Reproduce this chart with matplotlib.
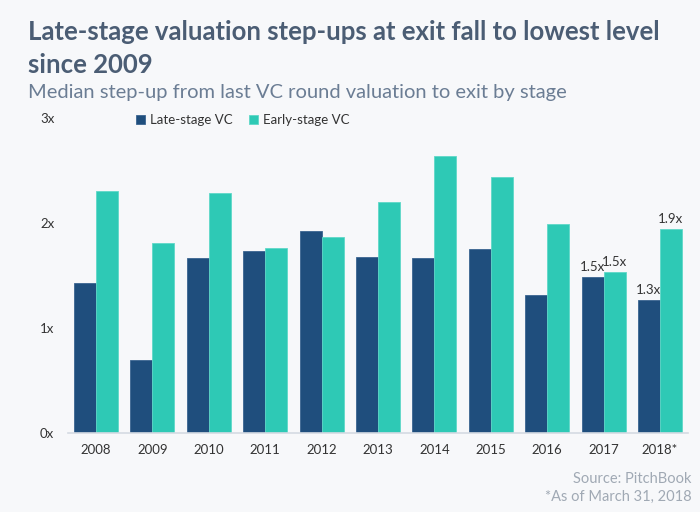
import matplotlib.pyplot as plt
import numpy as np

years = ['2008', '2009', '2010', '2011', '2012', '2013', '2014', '2015', '2016', '2017', '2018*']
late_stage = [1.43, 0.69, 1.66, 1.73, 1.92, 1.67, 1.66, 1.75, 1.31, 1.48, 1.26]
early_stage = [2.30, 1.81, 2.28, 1.76, 1.86, 2.20, 2.64, 2.44, 1.99, 1.53, 1.94]
late_labels = {9: '1.5x', 10: '1.3x'}
early_labels = {9: '1.5x', 10: '1.9x'}

bg = '#f7f8fa'
late_col = '#1f4e7d'
early_col = '#2ec9b5'

plt.rcParams['font.family'] = ['Lato', 'DejaVu Sans']

fig = plt.figure(figsize=(7, 5.12), dpi=100, facecolor=bg)
ax = fig.add_axes([0.097, 0.155, 0.886, 0.615], facecolor=bg)

x = np.arange(len(years))
w = 0.39
ax.bar(x - w / 2, late_stage, w, color=late_col, edgecolor='#3a6591', linewidth=0.6, label='Late-stage VC')
ax.bar(x + w / 2, early_stage, w, color=early_col, edgecolor='#5fd8c8', linewidth=0.6, label='Early-stage VC')

for i, t in late_labels.items():
    ax.text(x[i] - w / 2, late_stage[i] + 0.04, t, ha='center', va='bottom', fontsize=9.5, color='#333333')
for i, t in early_labels.items():
    ax.text(x[i] + w / 2, early_stage[i] + 0.04, t, ha='center', va='bottom', fontsize=9.5, color='#333333')

ax.set_xlim(-0.5, len(years) - 0.5)
ax.set_ylim(0, 3)
ax.set_yticks([0, 1, 2, 3])
ax.set_yticklabels(['0x', '1x', '2x', '3x'])
ax.set_xticks(x)
ax.set_xticklabels(years)
ax.tick_params(axis='both', length=0, labelsize=9.5, colors='#333333')
ax.tick_params(axis='y', pad=0)
ax.tick_params(axis='x', pad=8)
for lbl in ax.get_yticklabels():
    lbl.set_horizontalalignment('left')
    lbl.set_x(-0.045)
for s in ['top', 'right', 'left']:
    ax.spines[s].set_visible(False)
ax.spines['bottom'].set_color('#d5dbe3')
ax.spines['bottom'].set_linewidth(1.2)

ax.legend(loc='upper left', bbox_to_anchor=(0.09, 1.05), ncol=2, frameon=False,
          fontsize=9.5, handlelength=0.7, handleheight=0.7, handletextpad=0.4,
          columnspacing=1.2, labelcolor='#333333')

fig.text(0.04, 0.96, 'Late-stage valuation step-ups at exit fall to lowest level\nsince 2009',
         fontsize=18.5, fontweight='bold', color='#4b5d74', va='top', linespacing=1.45)
fig.text(0.04, 0.82, 'Median step-up from last VC round valuation to exit by stage',
         fontsize=14.5, color='#6b7d94', va='center')
fig.text(0.988, 0.064, 'Source: PitchBook', ha='right', va='center', fontsize=10.5, color='#a0a9b4')
fig.text(0.988, 0.029, '*As of March 31, 2018', ha='right', va='center', fontsize=10.5, color='#a0a9b4')

fig.savefig('out.png', dpi=100, facecolor=bg)
